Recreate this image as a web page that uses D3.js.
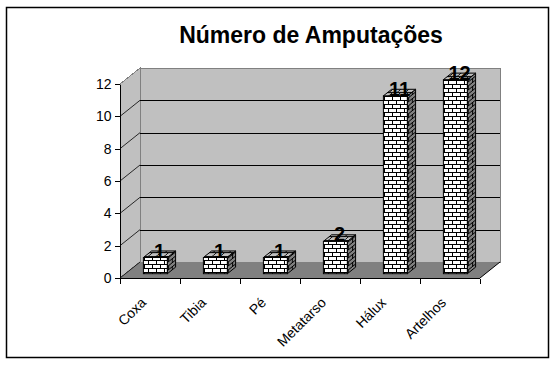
<!DOCTYPE html>
<head>
<meta charset="utf-8">
<script src="https://d3js.org/d3.v7.min.js"></script>
<style>
  body { margin: 0; background: #fff; font-family: "Liberation Sans", Arial, sans-serif; }
  .axis path, .axis line { stroke: #000; shape-rendering: crispEdges; }
  .axis text { font-size: 14px; fill: #000; }
  .wall { shape-rendering: crispEdges; }
</style>
</head>
<body>
<script>
var categories = ["Coxa", "Tibia", "Pé", "Metatarso", "Hálux", "Artelhos"];
var amputacoes = [1, 1, 1, 2, 11, 12];
var yTicks = [0, 2, 4, 6, 8, 10, 12];
var title = "Número de Amputações";

var width = 557, height = 366;
// 3d depth of the plot box, and where the bars sit inside it
var dx = 20, dy = -16;
var f0 = 0.27, f1 = 0.68;

var svg = d3.select("body").append("svg")
    .attr("width", width)
    .attr("height", height);

svg.append("rect")
    .attr("x", 6.5).attr("y", 7.5)
    .attr("width", 542).attr("height", 350)
    .attr("fill", "#fff").attr("stroke", "#000").attr("stroke-width", 1.5);

var x = d3.scaleBand()
    .domain(categories)
    .range([120, 480])
    .paddingInner(0.6)
    .paddingOuter(0.3);

var y = d3.scaleLinear()
    .domain([0, 12])
    .range([278, 84]);

// brick patterns
var defs = svg.append("defs");
function brick(id, fill, transform) {
  var p = defs.append("pattern")
      .attr("id", id)
      .attr("patternUnits", "userSpaceOnUse")
      .attr("width", 8).attr("height", 8);
  if (transform) p.attr("patternTransform", transform);
  p.append("rect").attr("width", 8).attr("height", 8).attr("fill", fill);
  p.append("path")
      .attr("d", "M0,0.5H8M0,4.5H8M0.5,0.5V4.5M4.5,4.5V8.5")
      .attr("stroke", "#000").attr("stroke-width", 1).attr("fill", "none");
}
brick("brickFront", "#fff");
brick("brickSide", "#808080", "skewY(" + (Math.atan(dy / dx) * 180 / Math.PI) + ")");
brick("brickTop", "#c0c0c0", "skewX(" + (Math.atan(dx / dy) * 180 / Math.PI) + ")");

var x0 = 120, x1 = 480, yb = y(0), yt = y(12);

// walls
svg.append("polygon").attr("class", "wall")
    .attr("points", [[x0, yb], [x0, yt], [x0 + dx, yt + dy], [x0 + dx, yb + dy]].join(" "))
    .attr("fill", "#c0c0c0").attr("stroke", "#808080");
svg.append("rect").attr("class", "wall")
    .attr("x", x0 + dx).attr("y", yt + dy)
    .attr("width", x1 - x0).attr("height", yb - yt)
    .attr("fill", "#c0c0c0").attr("stroke", "#808080");
svg.append("polygon")
    .attr("points", [[x0, yb], [x1, yb], [x1 + dx, yb + dy], [x0 + dx, yb + dy]].join(" "))
    .attr("fill", "#808080");

// gridlines on back wall and side wall
svg.append("g").selectAll("line")
    .data(yTicks.filter(function(d) { return d > 0 && d < 12; }))
    .enter().append("line")
    .attr("x1", x0 + dx).attr("x2", x1 + dx)
    .attr("y1", function(d) { return Math.round(y(d) + dy) + 0.5; })
    .attr("y2", function(d) { return Math.round(y(d) + dy) + 0.5; })
    .attr("stroke", "#000");
svg.append("g").selectAll("line")
    .data(yTicks.filter(function(d) { return d < 12; }))
    .enter().append("line")
    .attr("x1", x0).attr("x2", x0 + dx)
    .attr("y1", function(d) { return y(d); })
    .attr("y2", function(d) { return y(d) + dy; })
    .attr("stroke", "#000").attr("stroke-width", 0.8);
svg.append("line")
    .attr("x1", x1).attr("y1", yb).attr("x2", x1 + dx).attr("y2", yb + dy)
    .attr("stroke", "#000");

// bars
var bw = x.bandwidth();
var bars = svg.append("g").selectAll("g")
    .data(categories)
    .enter().append("g");

function bx(d) { return x(d) + f0 * dx; }
function btop(i) { return y(amputacoes[i]) + f0 * dy; }
var bot = y(0) + f0 * dy;
var ddx = (f1 - f0) * dx, ddy = (f1 - f0) * dy;

bars.append("rect")
    .attr("x", bx)
    .attr("y", function(d, i) { return btop(i); })
    .attr("width", bw)
    .attr("height", function(d, i) { return bot - btop(i); })
    .attr("fill", "url(#brickFront)").attr("stroke", "#000");
bars.append("polygon")
    .attr("points", function(d, i) {
      var a = bx(d) + bw, t = btop(i);
      return [[a, t], [a, bot], [a + ddx, bot + ddy], [a + ddx, t + ddy]].join(" ");
    })
    .attr("fill", "url(#brickSide)").attr("stroke", "#000");
bars.append("polygon")
    .attr("points", function(d, i) {
      var a = bx(d), t = btop(i);
      return [[a, t], [a + bw, t], [a + bw + ddx, t + ddy], [a + ddx, t + ddy]].join(" ");
    })
    .attr("fill", "url(#brickTop)").attr("stroke", "#000");

// value labels
bars.append("text")
    .attr("x", function(d) { return bx(d) + bw / 2 + ddx / 2; })
    .attr("y", function(d, i) { return btop(i); })
    .attr("text-anchor", "middle")
    .style("font-size", "20px").style("font-weight", "bold")
    .text(function(d, i) { return amputacoes[i]; });

// y axis
svg.append("g")
    .attr("class", "axis")
    .attr("transform", "translate(" + (x0 - 0.5) + ",0)")
    .call(d3.axisLeft(y).tickValues(yTicks).tickSize(5).tickSizeOuter(0).tickPadding(3));

// x axis
var xAxis = svg.append("g")
    .attr("class", "axis")
    .attr("transform", "translate(0," + (yb + 0.5) + ")");
xAxis.append("line").attr("x1", x0).attr("x2", x1);
xAxis.selectAll(".edge")
    .data(d3.range(categories.length + 1))
    .enter().append("line")
    .attr("x1", function(i) { return Math.round(x0 + i * x.step()) + 0.5; })
    .attr("x2", function(i) { return Math.round(x0 + i * x.step()) + 0.5; })
    .attr("y2", 5);
xAxis.selectAll(".lbl")
    .data(categories)
    .enter().append("text")
    .attr("text-anchor", "end")
    .attr("transform", function(d) {
      return "translate(" + (x(d) + bw / 2 - 3) + ",25) rotate(-45)";
    })
    .text(function(d) { return d; });

svg.append("text")
    .attr("x", 311).attr("y", 43)
    .attr("text-anchor", "middle")
    .style("font-size", "23px").style("font-weight", "bold")
    .text(title);
</script>
</body>
